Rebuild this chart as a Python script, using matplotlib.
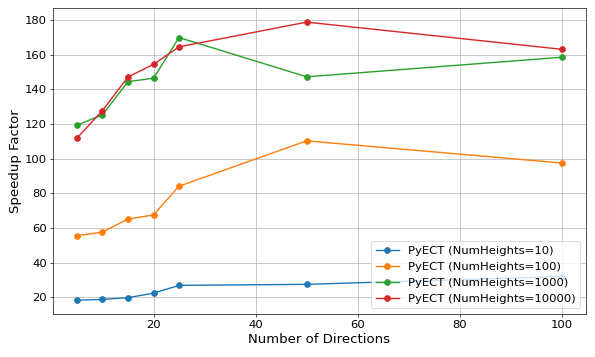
import matplotlib

matplotlib.use('Agg')
from matplotlib import pyplot as plt  # noqa: E402

directions = [5, 10, 15, 20, 25, 50, 100]
heights_labels = [
    'PyECT (NumHeights=10)',
    'PyECT (NumHeights=100)',
    'PyECT (NumHeights=1000)',
    'PyECT (NumHeights=10000)',
]
speedup_10 = [18.2, 18.7, 19.7, 22.3, 26.8, 27.4, 31.9]
speedup_100 = [55.5, 57.6, 65.1, 67.5, 84.1, 110.3, 97.5]
speedup_1000 = [119.3, 125.4, 144.5, 146.5, 170.0, 147.3, 158.6]
speedup_10000 = [111.9, 127.8, 147.2, 154.5, 164.6, 178.9, 163.2]

series = [speedup_10, speedup_100, speedup_1000, speedup_10000]

fig, ax = plt.subplots(figsize=(10, 6), dpi=59.5)
fig.subplots_adjust(left=0.0886, right=0.985, top=0.977, bottom=0.12)
for values, label in zip(series, heights_labels):
    ax.plot(directions, values, marker='o', markersize=7, linewidth=1.7, label=label)

ax.set_xlabel('Number of Directions', fontsize=16)
ax.set_ylabel('Speedup Factor', fontsize=16)
ax.tick_params(labelsize=14)
ax.grid(True)
ax.legend(fontsize=14, loc='lower right')

fig.savefig('out.png')
